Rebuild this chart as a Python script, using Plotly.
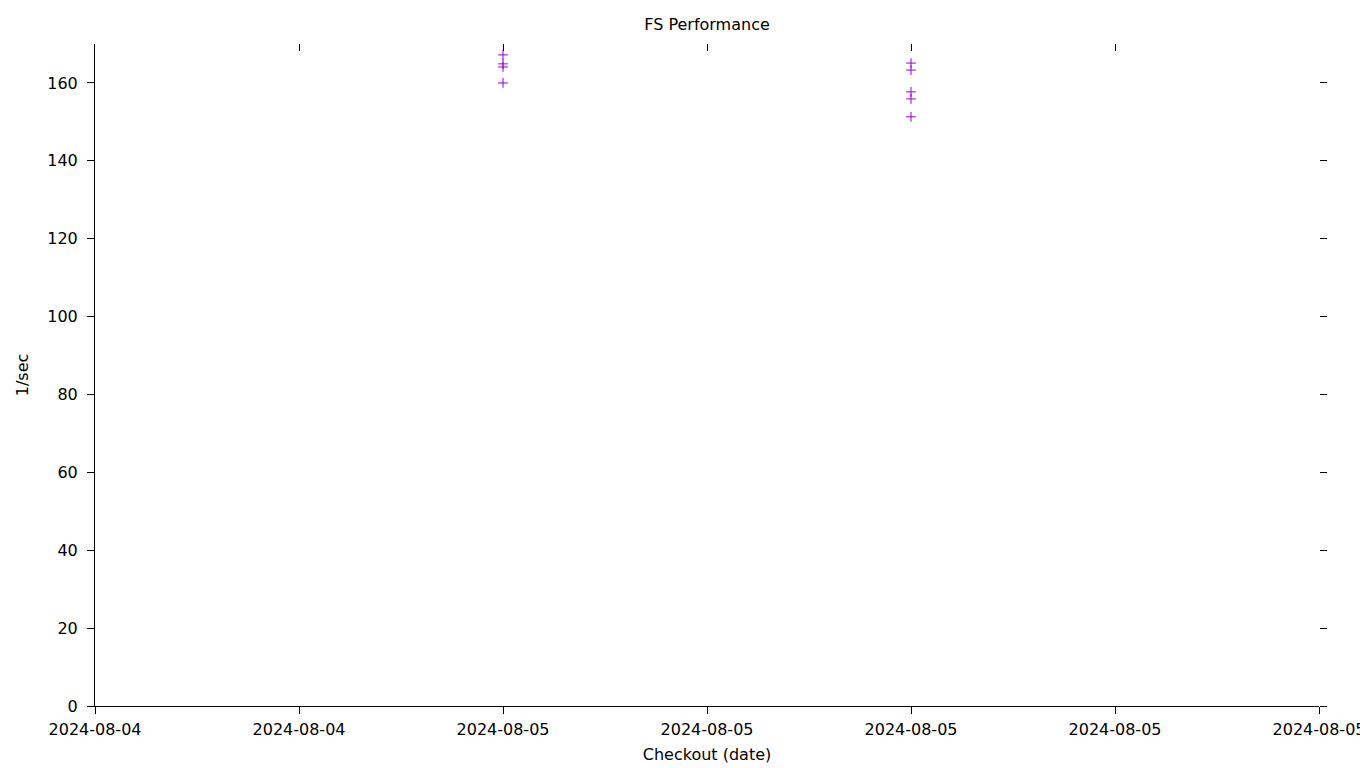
import plotly.graph_objects as go

# Data
dates = ["2024-08-05 00:00"] * 4 + ["2024-08-05 08:00"] * 5
values = [167.2, 164.9, 164.1, 160.0, 165.1, 163.3, 157.7, 155.9, 151.3]
x_range = ["2024-08-04 16:00", "2024-08-05 16:00"]
y_range = [0, 170]
y_ticks = [0, 20, 40, 60, 80, 100, 120, 140, 160]

FONT = "DejaVu Sans"
fig = go.Figure()
fig.add_trace(go.Scatter(
    x=dates, y=values, mode="markers",
    marker=dict(symbol="cross-thin", size=7, line=dict(width=1, color="#9400D3"), color="#9400D3"),
    showlegend=False, xaxis="x", yaxis="y",
))
# invisible trace on mirror axes
fig.add_trace(go.Scatter(x=[dates[0]], y=[values[0]], mode="markers", marker=dict(opacity=0),
                         showlegend=False, xaxis="x2", yaxis="y2", hoverinfo="skip"))

common_x = dict(type="date", range=x_range, tick0="2024-08-04 16:00", dtick=4 * 3600 * 1000,
                tickformat="%Y-%m-%d", showgrid=False, zeroline=False, automargin=False)
fig.update_layout(
    width=1360, height=768,
    margin=dict(l=95, r=41, t=44, b=62),
    plot_bgcolor="white", paper_bgcolor="white",
    font=dict(family=FONT, size=16, color="black"),
    title=dict(text="FS Performance", xref="paper", x=0.5, xanchor="center", y=0.968, yanchor="middle",
               font=dict(family=FONT, size=16)),
    xaxis=dict(**common_x, showline=True, linecolor="black", linewidth=1,
               ticks="outside", ticklen=7, tickcolor="black",
               title=dict(text="Checkout (date)", standoff=10, font=dict(size=16)),
               tickfont=dict(size=16), ticklabelstandoff=2, ticklabeloverflow="allow"),
    xaxis2=dict(**common_x, overlaying="x", side="top", showline=False,
                ticks="inside", ticklen=7, tickcolor="black", showticklabels=False),
    yaxis=dict(range=y_range, tickvals=y_ticks, showgrid=False, zeroline=False, automargin=False,
               showline=True, linecolor="black", linewidth=1,
               ticks="outside", ticklen=7, tickcolor="black", tickfont=dict(size=16),
               title=dict(text="1/sec", standoff=14, font=dict(size=16)), ticklabelstandoff=6),
    yaxis2=dict(range=y_range, tickvals=y_ticks, overlaying="y", side="right", automargin=False,
                showgrid=False, zeroline=False, showline=False,
                ticks="outside", ticklen=7, tickcolor="black", showticklabels=False),
)

fig.write_html("out.html")
